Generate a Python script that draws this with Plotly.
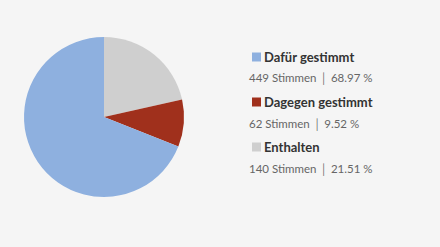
import plotly.graph_objects as go

labels = ["Dafür gestimmt", "Dagegen gestimmt", "Enthalten"]
votes = [449, 62, 140]
percents = ["68.97", "9.52", "21.51"]
colors = ["#8eb0df", "#a0301c", "#cfcfcf"]

W, H = 440, 247
# pie drawn clockwise from 12 o'clock: Enthalten, Dagegen, Dafür
order = [2, 1, 0]

fig = go.Figure()
fig.add_trace(go.Pie(
    labels=[labels[i] for i in order],
    values=[votes[i] for i in order],
    marker=dict(colors=[colors[i] for i in order], line=dict(width=0)),
    sort=False, direction="clockwise", rotation=0,
    textinfo="none", hoverinfo="label+value+percent",
    showlegend=False,
    domain=dict(x=[24 / W, 184 / W], y=[(H - 197) / H, (H - 37) / H]),
))

shapes = []
annotations = []
top0 = 57
step = 45
for k in range(len(labels)):
    yc = top0 + k * step
    shapes.append(dict(type="rect", xref="paper", yref="paper",
                       x0=252 / W, x1=261 / W,
                       y0=(H - yc - 4.5) / H, y1=(H - yc + 4.5) / H,
                       fillcolor=colors[k], line=dict(width=0)))
    annotations.append(dict(xref="paper", yref="paper", x=262 / W, y=(H - yc) / H,
                            xanchor="left", yanchor="middle", showarrow=False,
                            text=f"<b>{labels[k]}</b>",
                            font=dict(family="Lato", size=13, color="#333333")))
    annotations.append(dict(xref="paper", yref="paper", x=247 / W, y=(H - yc - 21.5) / H,
                            xanchor="left", yanchor="middle", showarrow=False,
                            text=f"{votes[k]} Stimmen │ {percents[k]} %",
                            font=dict(family="Lato", size=11.5, color="#666666")))

fig.update_layout(
    width=W, height=H,
    margin=dict(l=0, r=0, t=0, b=0),
    paper_bgcolor="#f5f5f5", plot_bgcolor="#f5f5f5",
    shapes=shapes, annotations=annotations,
)
fig.write_html("out.html")
